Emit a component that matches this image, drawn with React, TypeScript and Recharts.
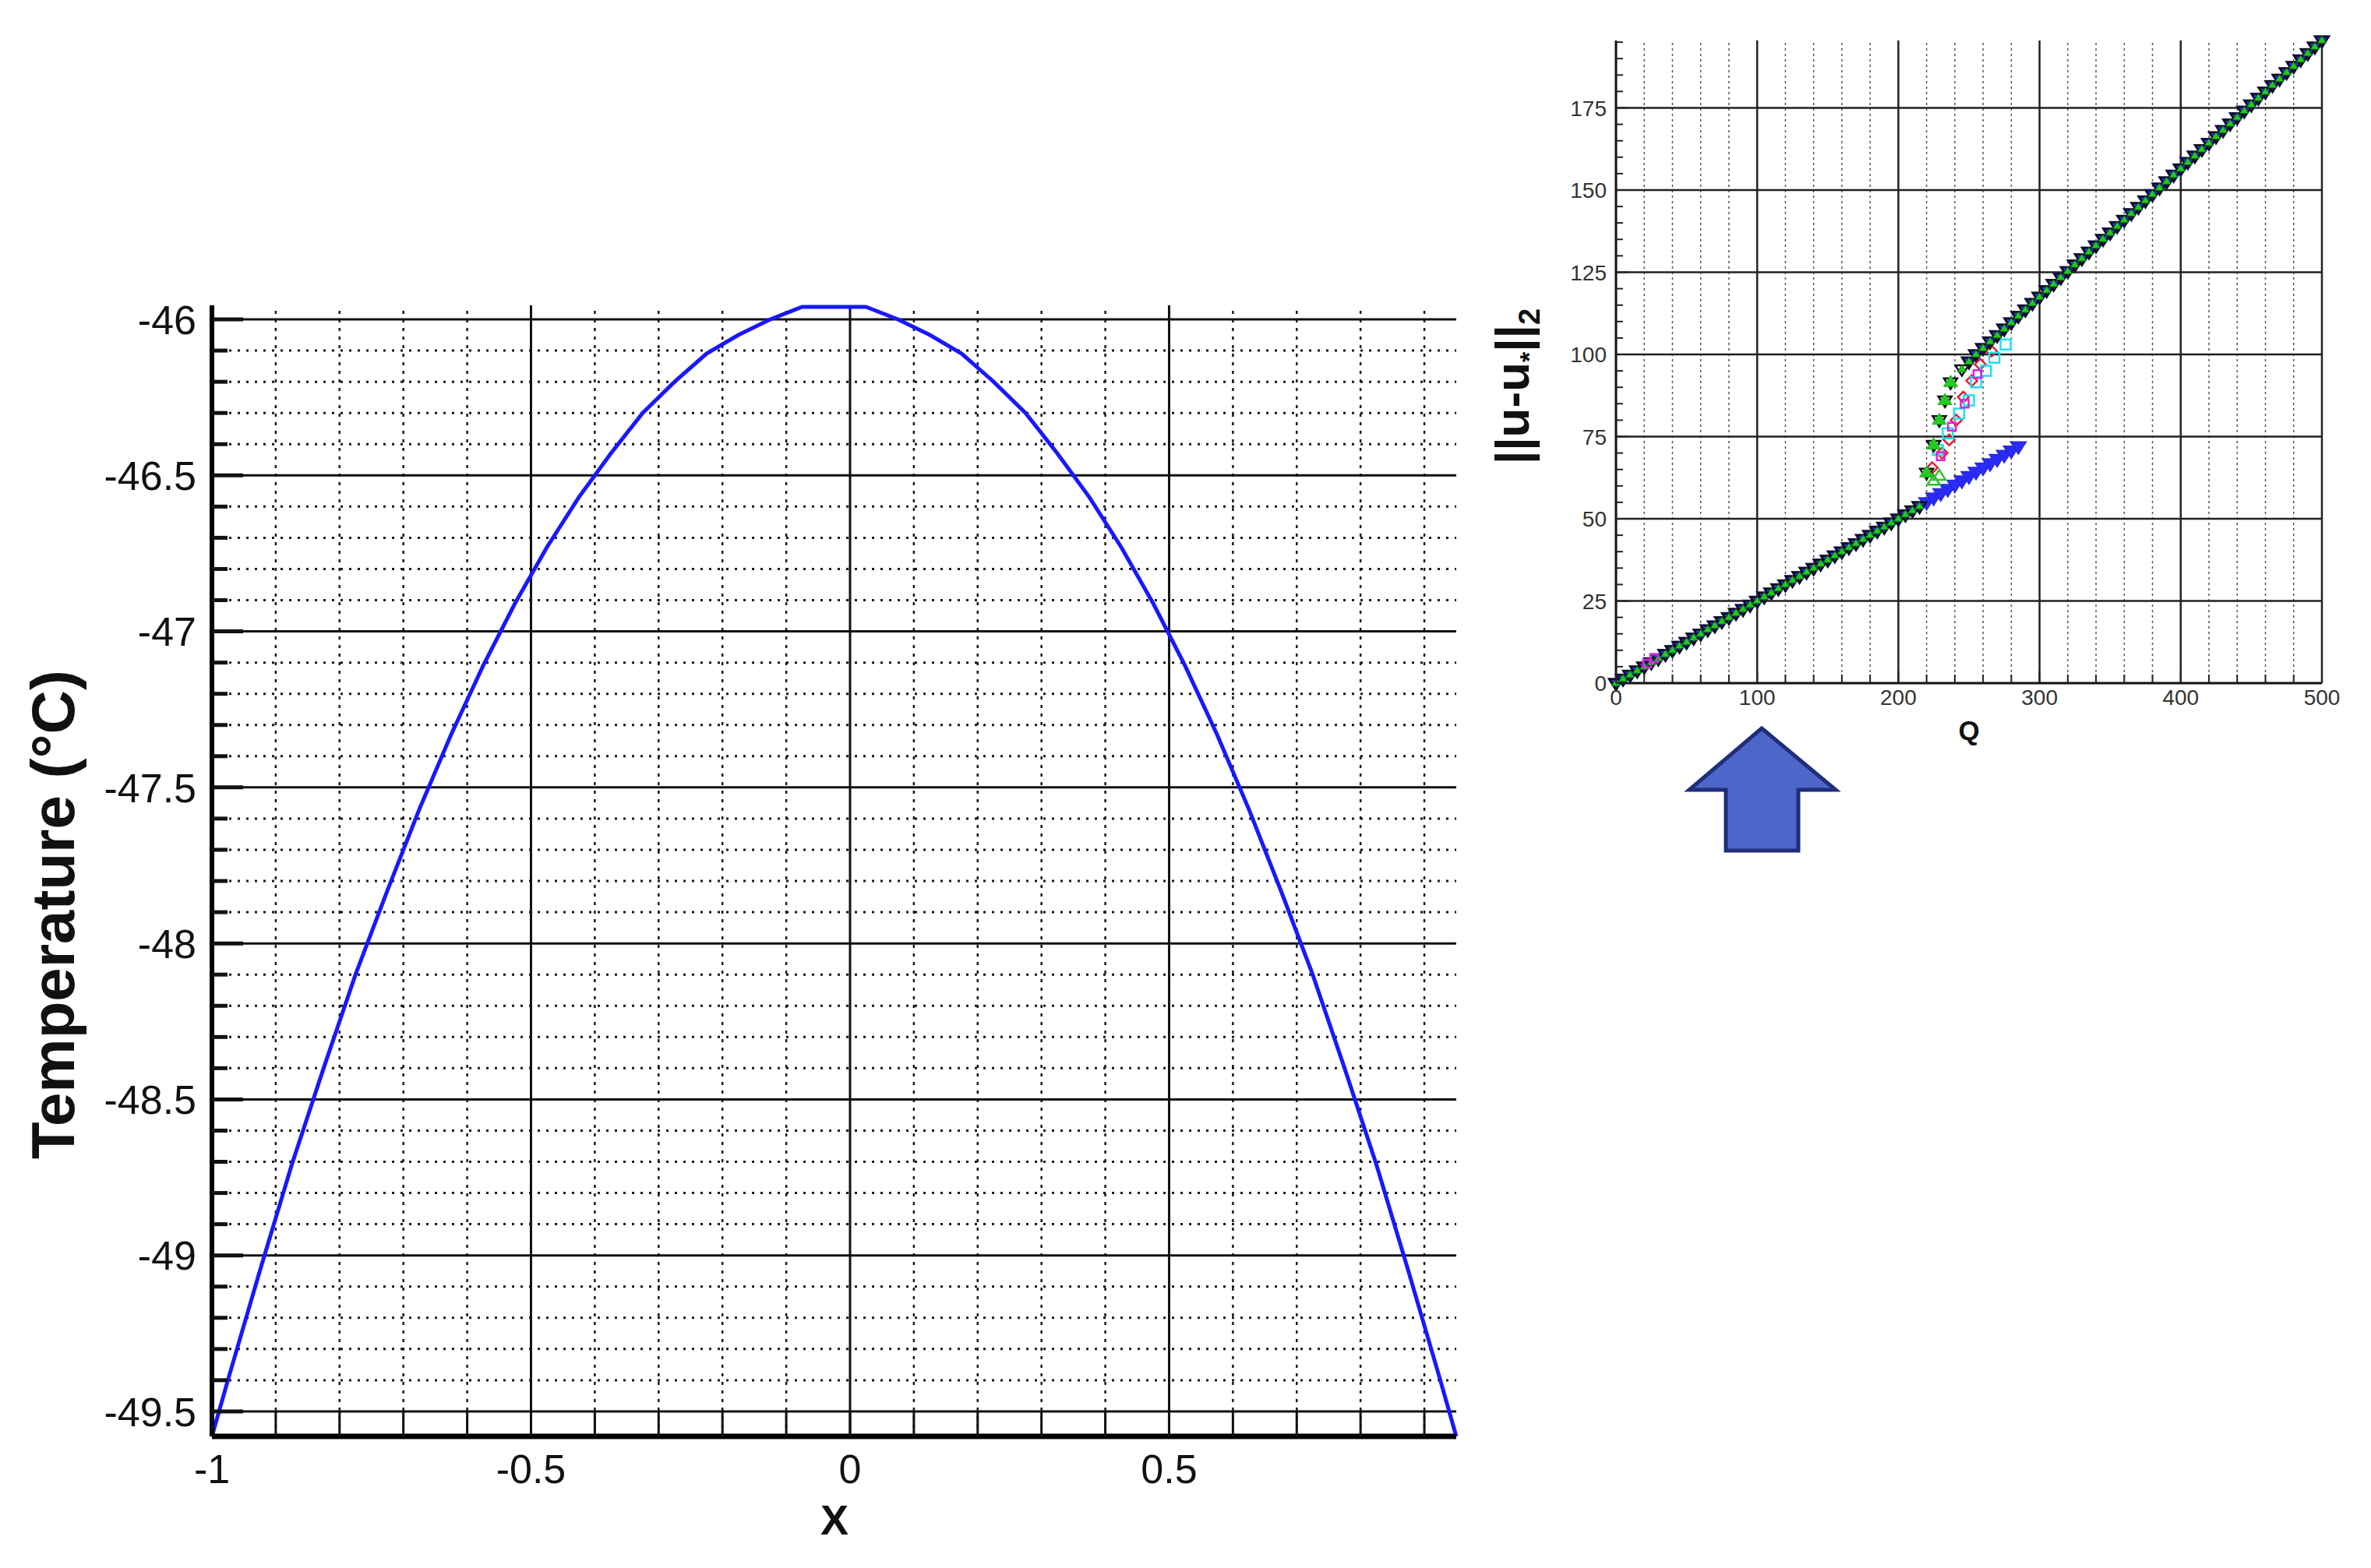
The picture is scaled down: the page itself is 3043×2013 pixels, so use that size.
import React from "react";
import {
  LineChart, Line, ScatterChart, Scatter, XAxis, YAxis, ReferenceLine,
} from "recharts";

const FONT = "'Liberation Sans', Arial, Helvetica, sans-serif";

// ---------- main plot: temperature profile ----------
const xPos = [
  -1, -0.975, -0.925, -0.875, -0.825, -0.775, -0.725, -0.675, -0.625, -0.575,
  -0.525, -0.475, -0.425, -0.375, -0.325, -0.275, -0.225, -0.175, -0.125, -0.075,
  -0.025, 0.025, 0.075, 0.125, 0.175, 0.225, 0.275, 0.325, 0.375, 0.425,
  0.475, 0.525, 0.575, 0.625, 0.675, 0.725, 0.775, 0.825, 0.875, 0.925, 0.95,
];
const temperature = [
  -49.58, -49.40, -49.05, -48.71, -48.40, -48.10, -47.83, -47.57, -47.33, -47.11,
  -46.91, -46.73, -46.57, -46.43, -46.30, -46.20, -46.11, -46.05, -46.00, -45.96,
  -45.96, -45.96, -46.00, -46.05, -46.11, -46.20, -46.30, -46.43, -46.57, -46.73,
  -46.91, -47.11, -47.33, -47.57, -47.83, -48.10, -48.40, -48.71, -49.05, -49.40, -49.58,
];
const xMajor = [-1, -0.5, 0, 0.5];
const xLabels = ["-1", "-0.5", "0", "0.5"];
const tMajor = [-46, -46.5, -47, -47.5, -48, -48.5, -49, -49.5];
const tLabels = ["-46", "-46.5", "-47", "-47.5", "-48", "-48.5", "-49", "-49.5"];
const X_DOMAIN = [-1, 0.95];
const T_DOMAIN = [-49.58, -45.955];

// ---------- inset: ||u-u*||2 vs Q ----------
const qLower = [
  0, 5, 10, 15, 20, 25, 30, 35, 40, 45, 50, 55, 60, 65, 70, 75, 80, 85, 90, 95,
  100, 105, 110, 115, 120, 125, 130, 135, 140, 145, 150, 155, 160, 165, 170, 175, 180, 185, 190, 195,
  200, 205, 210, 215, 220, 225, 230, 235, 240, 245, 250, 255, 260, 265, 270, 275, 280, 285,
];
const uLower = [
  0, 1.3, 2.5, 3.8, 5, 6.3, 7.5, 8.8, 10, 11.3, 12.5, 13.8, 15, 16.3, 17.5, 18.8, 20, 21.3, 22.5, 23.8,
  25, 26.3, 27.5, 28.8, 30, 31.3, 32.5, 33.8, 35, 36.3, 37.5, 38.8, 40, 41.3, 42.5, 43.8, 45, 46.3, 47.5, 48.8,
  50, 51.3, 52.5, 53.8, 55, 56.4, 57.7, 59, 60.3, 61.6, 62.9, 64.2, 65.5, 66.8, 68.1, 69.4, 70.7, 72,
];
const qUpper = [
  240, 245, 250, 255, 260, 265, 270, 275, 280, 285, 290, 295, 300, 305, 310, 315, 320, 325, 330, 335,
  340, 345, 350, 355, 360, 365, 370, 375, 380, 385, 390, 395, 400, 405, 410, 415, 420, 425, 430, 435,
  440, 445, 450, 455, 460, 465, 470, 475, 480, 485, 490, 495, 500,
];
const uUpper = [
  93, 95.5, 97.8, 100, 101.9, 103.9, 105.8, 107.8, 109.7, 111.7, 113.6, 115.6, 117.5, 119.5, 121.4, 123.4, 125.3, 127.3, 129.2, 131.2,
  133.1, 135.1, 137, 139, 140.9, 142.9, 144.8, 146.8, 148.7, 150.7, 152.6, 154.6, 156.5, 158.5, 160.4, 162.4, 164.3, 166.3, 168.2, 170.2,
  172.1, 174.1, 176, 178, 179.9, 181.9, 183.8, 185.8, 187.7, 189.7, 191.6, 193.6, 195.5,
];
// jump region, per marker family
const qGreenJump = [220, 225, 229, 233, 237];
const uGreenJump = [64, 72.5, 80, 86, 91.5];
const qRedJump = [224, 231, 236, 241, 246, 252, 258, 266];
const uRedJump = [65.5, 70, 74, 80, 87, 92, 97, 101];
const qCyanJump = [228, 235, 243, 250, 255, 262, 268, 276];
const uCyanJump = [71, 76, 82, 86, 91.5, 95, 99, 103];
const qMagentaJump = [22, 27, 230, 238, 247, 256];
const uMagentaJump = [6, 7.5, 69, 78, 85, 94];
const qLightGreenJump = [225, 229];
const uLightGreenJump = [61.5, 63];
const qTickLabels = ["0", "100", "200", "300", "400", "500"];
const uTickLabels = ["0", "25", "50", "75", "100", "125", "150", "175"];

const steps = (from: number, to: number, step: number) => {
  const out: number[] = [];
  for (let v = from; v <= to + step / 2; v += step) out.push(Math.round(v * 1000) / 1000);
  return out;
};
const zip = (qs: number[], us: number[]) => qs.map((q, i) => ({ q, u: us[i] }));
const near = (a: number, list: number[]) => list.findIndex((b) => Math.abs(a - b) < 1e-6);

const tempData = xPos.map((x, i) => ({ x, t: temperature[i] }));
const xAll = steps(-1, 0.9, 0.1);
const tAll = steps(-49.5, -46, 0.1);
const qAll = steps(0, 500, 20);
const uAll = steps(0, 195, 5);
const qMajor = [0, 100, 200, 300, 400, 500];
const uMajor = [0, 25, 50, 75, 100, 125, 150, 175];

const lower = zip(qLower, uLower);
const upper = zip(qUpper, uUpper);
const blueData = [...lower, ...upper.slice(2)];
const mainData = [...lower.filter((d) => d.q <= 215), ...zip(qGreenJump, uGreenJump), ...upper.slice(1)];
const redData = [...zip(qRedJump, uRedJump)];
const cyanData = zip(qCyanJump, uCyanJump);
const magentaData = zip(qMagentaJump, uMagentaJump);
const lightGreenData = zip(qLightGreenJump, uLightGreenJump);

function Marker({ cx, cy, kind, fill, stroke, r, sw }: any) {
  if (cx == null || cy == null) return null;
  let pts = "";
  if (kind === "triDown") pts = `${cx - r},${cy - r * 0.6} ${cx + r},${cy - r * 0.6} ${cx},${cy + r}`;
  else if (kind === "triUp") pts = `${cx - r},${cy + r * 0.6} ${cx + r},${cy + r * 0.6} ${cx},${cy - r}`;
  else if (kind === "diamond") pts = `${cx},${cy - r} ${cx + r},${cy} ${cx},${cy + r} ${cx - r},${cy}`;
  else pts = `${cx - r},${cy - r} ${cx + r},${cy - r} ${cx + r},${cy + r} ${cx - r},${cy + r}`;
  return <polygon points={pts} fill={fill} stroke={stroke} strokeWidth={sw} />;
}
const shape = (kind: string, fill: string, stroke: string, r: number, sw: number) =>
  (p: any) => <Marker cx={p.cx} cy={p.cy} kind={kind} fill={fill} stroke={stroke} r={r} sw={sw} />;

// tick renderers: labels only on major ticks, tick marks point into the plot
const MainYTick = (p: any) => {
  const v = p.payload.value;
  const i = near(v, tMajor);
  const ax = p.x + 20;
  return (
    <g>
      <line x1={ax} x2={ax + (i >= 0 ? 40 : 20)} y1={p.y} y2={p.y} stroke="#111" strokeWidth={5} />
      {i >= 0 && (
        <text x={p.x} y={p.y} dy="0.36em" textAnchor="end" fontSize={52} fill="#111" fontFamily={FONT}>
          {tLabels[i]}
        </text>
      )}
    </g>
  );
};
const MainXTick = (p: any) => {
  const v = p.payload.value;
  const i = near(v, xMajor);
  const ay = p.y - 23;
  return (
    <g>
      <line x1={p.x} x2={p.x} y1={ay} y2={ay - 32} stroke="#111" strokeWidth={3} />
      {i >= 0 && (
        <text x={p.x} y={p.y} dy="0.71em" textAnchor="middle" fontSize={52} fill="#111" fontFamily={FONT}>
          {xLabels[i]}
        </text>
      )}
    </g>
  );
};
const InsetYTick = (p: any) => {
  const i = near(p.payload.value, uMajor);
  const ax = p.x + 12;
  return (
    <g>
      <line x1={ax} x2={ax + (i >= 0 ? 16 : 9)} y1={p.y} y2={p.y} stroke="#222" strokeWidth={2} />
      {i >= 0 && (
        <text x={p.x} y={p.y} dy="0.36em" textAnchor="end" fontSize={28} fill="#333" fontFamily={FONT}>
          {uTickLabels[i]}
        </text>
      )}
    </g>
  );
};
const InsetXTick = (p: any) => {
  const i = near(p.payload.value, qMajor);
  const ay = p.y - 8;
  return (
    <g>
      <line x1={p.x} x2={p.x} y1={ay} y2={ay - (i >= 0 ? 16 : 11)} stroke="#222" strokeWidth={2} />
      {i >= 0 && (
        <text x={p.x} y={p.y} dy="0.71em" textAnchor="middle" fontSize={28} fill="#333" fontFamily={FONT}>
          {qTickLabels[i]}
        </text>
      )}
    </g>
  );
};

function MainChart() {
  return (
    <LineChart width={1900} height={2013} data={tempData} margin={{ top: 392, right: 31, bottom: 49, left: 122 }}>
      {tAll.filter((v) => near(v, tMajor) < 0).map((v) => (
        <ReferenceLine key={"tm" + v} y={v} stroke="#1a1a1a" strokeWidth={3} strokeDasharray="3 8" />
      ))}
      {xAll.filter((v) => near(v, xMajor) < 0).map((v) => (
        <ReferenceLine key={"xm" + v} x={v} stroke="#1a1a1a" strokeWidth={2.5} strokeDasharray="4 7" />
      ))}
      {tMajor.map((v) => (
        <ReferenceLine key={"tM" + v} y={v} stroke="#111" strokeWidth={3} />
      ))}
      {xMajor.slice(1).map((v) => (
        <ReferenceLine key={"xM" + v} x={v} stroke="#111" strokeWidth={3} />
      ))}
      <XAxis
        type="number" dataKey="x" domain={X_DOMAIN} ticks={xAll} interval={0}
        tickSize={0} tickMargin={23} height={120} tick={MainXTick}
        axisLine={{ stroke: "#000", strokeWidth: 7 }} tickLine={false}
      />
      <YAxis
        type="number" domain={T_DOMAIN} ticks={tAll} interval={0}
        tickSize={0} tickMargin={20} width={150} tick={MainYTick}
        axisLine={{ stroke: "#000", strokeWidth: 6 }} tickLine={false}
      />
      <Line type="linear" dataKey="t" stroke="#1818ff" strokeWidth={5} dot={false} isAnimationActive={false} />
    </LineChart>
  );
}

function InsetChart() {
  return (
    <ScatterChart width={1143} height={1000} margin={{ top: 52, right: 63, bottom: 63, left: 94 }}>
      {qAll.filter((v) => near(v, qMajor) < 0).map((v) => (
        <ReferenceLine key={"qm" + v} x={v} stroke="#555" strokeWidth={1.5} strokeDasharray="3 4" />
      ))}
      {uMajor.slice(1).map((v) => (
        <ReferenceLine key={"uM" + v} y={v} stroke="#222" strokeWidth={2.5} />
      ))}
      {qMajor.slice(1).map((v) => (
        <ReferenceLine key={"qM" + v} x={v} stroke="#222" strokeWidth={2.5} />
      ))}
      <XAxis
        type="number" dataKey="q" domain={[0, 500]} ticks={qAll} interval={0}
        tickSize={0} tickMargin={8} height={60} tick={InsetXTick}
        axisLine={{ stroke: "#111", strokeWidth: 3 }} tickLine={false}
      />
      <YAxis
        type="number" dataKey="u" domain={[0, 195.5]} ticks={uAll} interval={0}
        tickSize={0} tickMargin={12} width={80} tick={InsetYTick}
        axisLine={{ stroke: "#111", strokeWidth: 3 }} tickLine={false}
      />
      <Scatter data={blueData} shape={shape("triDown", "#2a2aff", "#2a2ad0", 10, 1.5)} isAnimationActive={false} />
      <Scatter data={redData} shape={shape("diamond", "none", "#e0203a", 7, 2.5)} isAnimationActive={false} />
      <Scatter data={cyanData} shape={shape("square", "none", "#20e0f0", 6.5, 2.5)} isAnimationActive={false} />
      <Scatter data={lightGreenData} shape={shape("triUp", "none", "#30c030", 8, 2.5)} isAnimationActive={false} />
      <Scatter data={mainData} shape={shape("triDown", "none", "#111", 8.5, 2.5)} isAnimationActive={false} />
      <Scatter data={mainData} shape={shape("triUp", "#1fcc1f", "#0a7a0a", 5.5, 1)} isAnimationActive={false} />
      <Scatter data={qGreenJump.map((q, i) => ({ q, u: uGreenJump[i] }))} shape={shape("triUp", "#22cc22", "#22aa22", 9, 1)} isAnimationActive={false} />
      <Scatter data={magentaData} shape={shape("square", "none", "#e020e0", 5, 2.5)} isAnimationActive={false} />
    </ScatterChart>
  );
}

export default function App() {
  return (
    <div style={{ position: "absolute", left: 0, top: 0, width: 3043, height: 2013, background: "#fff" }}>
      <div style={{ position: "absolute", left: 0, top: 0 }}>
        <MainChart />
      </div>
      <div style={{ position: "absolute", left: 1900, top: 0 }}>
        <InsetChart />
      </div>
      <svg width={3043} height={2013} style={{ position: "absolute", left: 0, top: 0, pointerEvents: "none" }}>
        <text transform="translate(95,1174) rotate(-90)" textAnchor="middle" fontSize={78} fontWeight="bold" fontFamily={FONT} fill="#111">
          Temperature (°C)
        </text>
        <text x={1071} y={1970} textAnchor="middle" fontSize={54} fontWeight="bold" fontFamily={FONT} fill="#111">X</text>
        <text transform="translate(1962,496) rotate(-90)" textAnchor="middle" fontSize={62} fontWeight="bold" fontFamily={FONT} fill="#111">
          ||u-u<tspan fontSize={34} dy={12}>*</tspan><tspan dy={-12}>||</tspan><tspan fontSize={38} dy={14}>2</tspan>
        </text>
        <text x={2527} y={950} textAnchor="middle" fontSize={35} fontWeight="bold" fontFamily={FONT} fill="#111">Q</text>
        <polygon
          points="2261,935 2356,1014 2308,1014 2308,1092 2215,1092 2215,1014 2168,1014"
          fill="#4d66c9" stroke="#1f2e7a" strokeWidth={5}
        />
      </svg>
    </div>
  );
}
